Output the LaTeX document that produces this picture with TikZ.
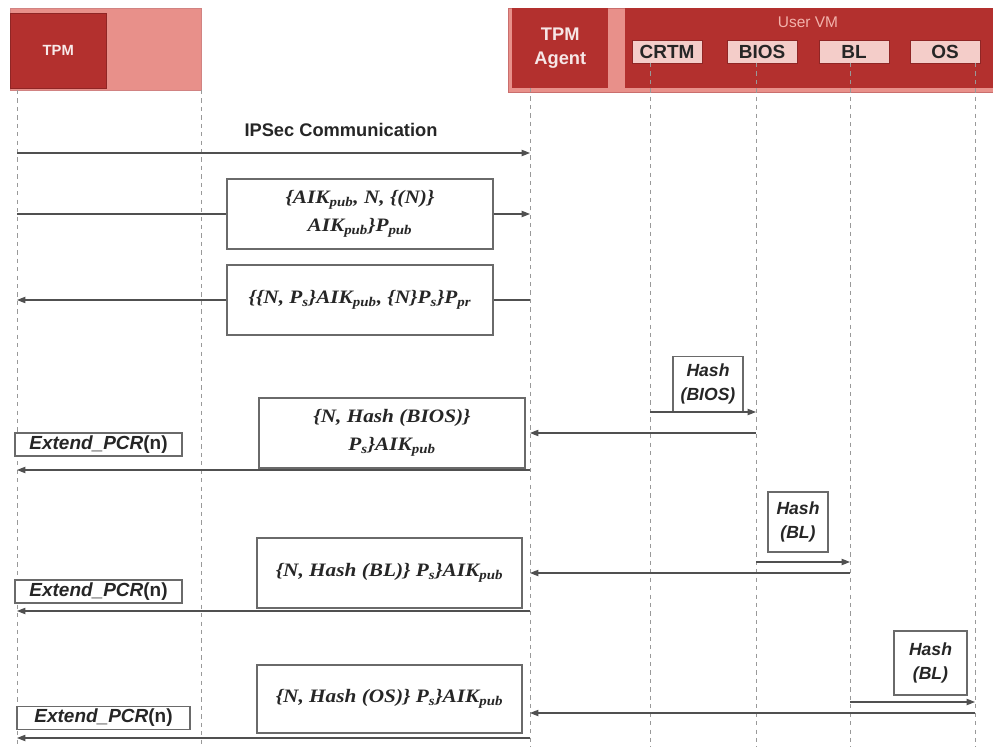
\documentclass[tikz,border=0pt]{standalone}
\usepackage{fontspec}
\setmainfont{Liberation Sans}
\newfontfamily\msgfamily[FakeStretch=1.12]{Liberation Serif}
\usepackage{tikz}
\usetikzlibrary{
  arrows.meta,
  positioning,
  calc,
}

\definecolor{vmred}{HTML}{B3302E}
\definecolor{vmpink}{HTML}{E8908A}
\definecolor{vmpale}{HTML}{F4CDC9}
\definecolor{vmtext}{HTML}{F3B3AC}
\definecolor{linegray}{HTML}{505050}
\definecolor{boxgray}{HTML}{6A6A6A}

\def\pxu{0.025cm} % one pixel of the layout

\begin{document}
\begin{tikzpicture}[
  x=0.025cm, y=-0.025cm,
  font=\sffamily\bfseries,
  lifeline/.style={draw=gray!80, dashed, line width=0.6pt},
  msg/.style={draw=linegray, line width=0.8pt, -{Triangle[length=6pt,width=4.5pt]}},
  plainline/.style={draw=linegray, line width=0.8pt},
  subbox/.style={fill=vmpale, draw=vmred!80!black, line width=0.5pt, inner sep=0pt,
    minimum width=70*\pxu, minimum height=23*\pxu, text=black!85,
    font=\fontsize{13.5}{15}\selectfont\bfseries},
  cryptbox/.style={draw=boxgray, line width=1pt, fill=white, inner sep=0pt,
    minimum width=266*\pxu, minimum height=70*\pxu, align=center, text=black!85,
    font=\fontsize{13.5}{20}\selectfont\msgfamily\bfseries\itshape},
  hashbox/.style={draw=boxgray, line width=0.9pt, fill=white, inner sep=0pt,
    align=center, text=black!85, font=\fontsize{12.5}{17}\selectfont\bfseries\itshape},
  pcrbox/.style={draw=boxgray, line width=0.9pt, fill=white, inner sep=0pt,
    minimum height=23*\pxu, text=black!85, font=\fontsize{13.5}{15}\selectfont\bfseries},
]
  \useasboundingbox (0,0) rectangle (993,747);

  % Headers
  \node[fill=vmpink, draw=vmred!60, inner sep=0pt, anchor=north west,
    minimum width=191*\pxu, minimum height=82*\pxu] (tpmhead) at (10,8) {};
  \node[fill=vmred, draw=vmred!80!black, inner sep=0pt, anchor=north west,
    minimum width=96*\pxu, minimum height=75*\pxu, text=white!90!vmred,
    font=\fontsize{10.5}{12}\selectfont\bfseries] (tpmbox) at (10,13) {TPM};

  \node[fill=vmpink, draw=vmred!70, inner sep=0pt, anchor=north west,
    minimum width=495*\pxu, minimum height=84*\pxu] (hosthead) at (508,8) {};
  \node[fill=vmred, inner sep=0pt, anchor=north west, align=center,
    minimum width=96*\pxu, minimum height=80*\pxu, text=white!88!vmred,
    font=\fontsize{13}{17}\selectfont\bfseries] (agentbox) at (512,8) {TPM\\Agent};
  \node[fill=vmred, inner sep=0pt, anchor=north west,
    minimum width=378*\pxu, minimum height=80*\pxu] (vmbox) at (625,8) {};
  \node[text=vmtext, font=\fontsize{11}{13}\selectfont] (vmlabel) at (808,22) {User VM};

  \node[subbox] (crtmbox) at (667,51.5) {CRTM};
  \node[subbox] (biosbox) at (762,51.5) {BIOS};
  \node[subbox] (blbox)   at (854,51.5) {BL};
  \node[subbox] (osbox)   at (945,51.5) {OS};

  % Lifelines
  \coordinate (tpm)   at (17,90);
  \coordinate (tpmR)  at (201,90);
  \coordinate (agent) at (530,88);
  \coordinate (crtm)  at (650,63);
  \coordinate (bios)  at (756,63);
  \coordinate (bl)    at (850,63);
  \coordinate (os)    at (975,63);
  \coordinate (bottom) at (0,747);
  \foreach \l in {tpm,tpmR,agent,crtm,bios,bl,os}
    \draw[lifeline] (\l) -- (\l |- bottom);

  % IPSec channel
  \node[font=\fontsize{13}{15}\selectfont\bfseries, text=black!85] (ipsec) at (341,130) {IPSec Communication};
  \coordinate (r1) at (0,153);
  \draw[msg] (tpm |- r1) -- (agent |- r1);

  % Key exchange
  \node[cryptbox] (m2) at (360,214)
    {\{AIK\textsubscript{pub}, N, \{(N)\}\\AIK\textsubscript{pub}\}P\textsubscript{pub}};
  \draw[plainline] (tpm |- m2.west) -- (m2.west);
  \draw[msg] (m2.east) -- (agent |- m2.east);

  \node[cryptbox] (m3) at (360,300)
    {\{\{N, P\textsubscript{s}\}AIK\textsubscript{pub}, \{N\}P\textsubscript{s}\}P\textsubscript{pr}};
  \draw[plainline] (agent |- m3.east) -- (m3.east);
  \draw[msg] (m3.west) -- (tpm |- m3.west);

  % BIOS measurement
  \node[hashbox, anchor=south, minimum width=70*\pxu, minimum height=55*\pxu] (h1) at (708,412) {Hash\\(BIOS)};
  \draw[msg] (crtm |- h1.south) -- (bios |- h1.south);
  \node[cryptbox] (m4) at (392,433)
    {\{N, Hash (BIOS)\}\\P\textsubscript{s}\}AIK\textsubscript{pub}};
  \draw[msg] (bios |- m4) -- (agent |- m4);
  \node[pcrbox, minimum width=167*\pxu] (e1) at (98.5,444.5) {\itshape Extend\_PCR\upshape(n)};
  \coordinate (r4) at (0,470);
  \draw[msg] (agent |- r4) -- (tpm |- r4);

  % BL measurement
  \node[hashbox, minimum width=60*\pxu, minimum height=60*\pxu] (h2) at (798,522) {Hash\\(BL)};
  \coordinate (r5) at (0,562);
  \draw[msg] (bios |- r5) -- (bl |- r5);
  \node[cryptbox, minimum width=265*\pxu] (m5) at (389.5,573)
    {\{N, Hash (BL)\} P\textsubscript{s}\}AIK\textsubscript{pub}};
  \draw[msg] (bl |- m5) -- (agent |- m5);
  \node[pcrbox, minimum width=167*\pxu] (e2) at (98.5,591.5) {\itshape Extend\_PCR\upshape(n)};
  \coordinate (r6) at (0,611);
  \draw[msg] (agent |- r6) -- (tpm |- r6);

  % OS measurement
  \node[hashbox, minimum width=73*\pxu, minimum height=64*\pxu] (h3) at (930.5,663) {Hash\\(BL)};
  \coordinate (r7) at (0,702);
  \draw[msg] (bl |- r7) -- (os |- r7);
  \node[cryptbox, minimum width=265*\pxu, minimum height=68*\pxu] (m6) at (389.5,699)
    {\{N, Hash (OS)\} P\textsubscript{s}\}AIK\textsubscript{pub}};
  \coordinate (r8) at (0,713);
  \draw[msg] (os |- r8) -- (agent |- r8);
  \node[pcrbox, minimum width=173*\pxu] (e3) at (103.5,718) {\itshape Extend\_PCR\upshape(n)};
  \coordinate (r9) at (0,738);
  \draw[msg] (agent |- r9) -- (tpm |- r9);

\end{tikzpicture}
\end{document}
